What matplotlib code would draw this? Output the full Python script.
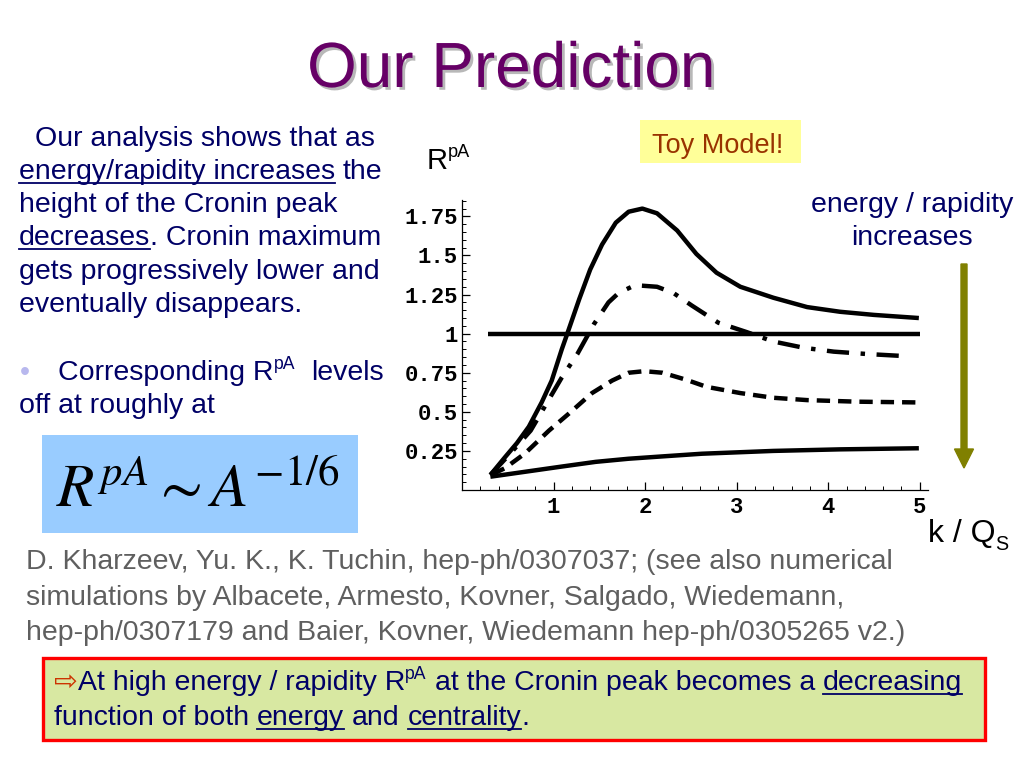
import matplotlib
matplotlib.use('Agg')
import matplotlib.pyplot as plt
import matplotlib.transforms as mtransforms
import matplotlib.patheffects as pe
from matplotlib.patches import Rectangle, FancyArrow
from matplotlib.lines import Line2D
from matplotlib.ticker import MultipleLocator, FixedLocator, FixedFormatter

plt.rcParams['mathtext.fontset'] = 'stix'

# curve values (k/Qs, R_pA)
top_x = [0.31, 0.47, 0.60, 0.73, 0.87, 0.98, 1.09, 1.15, 1.28, 1.40, 1.53, 1.68, 1.82, 1.97,
         2.13, 2.35, 2.56, 2.78, 3.04, 3.40, 3.77, 4.13, 4.50, 4.99]
top_y = [0.096, 0.21, 0.30, 0.405, 0.56, 0.70, 0.90, 1.0, 1.22, 1.41, 1.57, 1.71, 1.78, 1.80,
         1.77, 1.66, 1.51, 1.39, 1.30, 1.23, 1.17, 1.14, 1.12, 1.10]

dashdot_x = [0.31, 0.53, 0.75, 0.93, 1.09, 1.26, 1.44, 1.60, 1.71, 1.89, 2.13, 2.31, 2.51,
             2.80, 3.11, 3.40, 3.73, 4.06, 4.42, 4.82]
dashdot_y = [0.096, 0.235, 0.38, 0.56, 0.72, 0.87, 1.06, 1.20, 1.26, 1.31, 1.30, 1.26, 1.18,
             1.07, 1.01, 0.95, 0.91, 0.885, 0.87, 0.857]

dashed_x = [0.33, 0.47, 0.69, 0.95, 1.17, 1.42, 1.64, 1.82, 1.99, 2.19, 2.45, 2.67, 3.04,
            3.40, 3.77, 4.31, 4.99]
dashed_y = [0.10, 0.14, 0.235, 0.38, 0.49, 0.62, 0.70, 0.75, 0.76, 0.75, 0.705, 0.66, 0.62,
            0.59, 0.575, 0.565, 0.56]

bottom_x = [0.31, 0.73, 1.09, 1.46, 1.82, 2.19, 2.62, 3.40, 4.13, 4.99]
bottom_y = [0.085, 0.12, 0.15, 0.18, 0.20, 0.215, 0.232, 0.25, 0.26, 0.267]

unity_x = [0.28, 5.0]
unity_y = [1.0, 1.0]

x_ticks = [1, 2, 3, 4, 5]
x_labels = ['1', '2', '3', '4', '5']
y_ticks = [0.25, 0.5, 0.75, 1.0, 1.25, 1.5, 1.75]
y_labels = ['0.25', '0.5', '0.75', '1', '1.25', '1.5', '1.75']

W, H = 1024, 768
fig = plt.figure(figsize=(W / 100, H / 100), dpi=100)
# pixel coordinates, origin at the top left of the slide
T = mtransforms.Affine2D().scale(1 / W, -1 / H).translate(0, 1) + fig.transFigure
renderer = fig.canvas.get_renderer()

SANS = ['Liberation Sans', 'DejaVu Sans']
NAVY = '#000066'
BODY = 20.5


def text_w(s, size):
    t = fig.text(0, 0, s, fontsize=size, family=SANS)
    w = t.get_window_extent(renderer).width
    t.remove()
    return w


def adv(s, size):
    # advance width incl. spaces
    return text_w('|' + s + '|', size) - text_w('||', size)


def run_line(x, y, runs, size, color):
    for s, style in runs:
        sz = size * 0.62 if style in ('sup', 'sub') else size
        yy = y
        if style == 'sup':
            yy = y - size * 0.40 * 100 / 72
        elif style == 'sub':
            yy = y + size * 0.25 * 100 / 72
        core = s.strip()
        lead = s[:len(s) - len(s.lstrip())]
        x0 = x + (adv(lead, sz) if lead else 0)
        c = '#cc3300' if style == 'arrow' else color
        fig.text(x0, yy, core, transform=T, fontsize=sz, family=SANS, color=c,
                 ha='left', va='baseline')
        if style == 'u':
            x1 = x0 + adv(core, sz)
            fig.add_artist(Line2D([x0, x1], [y + 3.5, y + 3.5], transform=T, color=color, lw=1.3))
        x += adv(s, sz)


# title
fig.text(511, 87, 'Our Prediction', transform=T, fontsize=46, family=SANS, color='#660066',
         ha='center', va='baseline',
         path_effects=[pe.withSimplePatchShadow(offset=(2, -2), shadow_rgbFace='#9a9a9a', alpha=0.7)])

# left paragraph
run_line(35, 146, [('Our analysis shows that as', '')], BODY, NAVY)
run_line(19, 179, [('energy/rapidity increases', 'u'), (' the', '')], BODY, NAVY)
run_line(19, 212, [('height of the Cronin peak', '')], BODY, NAVY)
run_line(19, 245, [('decreases', 'u'), ('. Cronin maximum', '')], BODY, NAVY)
run_line(19, 279, [('gets progressively lower and', '')], BODY, NAVY)
run_line(19, 312, [('eventually disappears.', '')], BODY, NAVY)
fig.text(20, 380, '\u2022', transform=T, fontsize=BODY, family=SANS, color='#b8b8ee', va='baseline')
run_line(58, 380, [('Corresponding R', ''), ('pA', 'sup'), ('  levels', '')], BODY, NAVY)
run_line(19, 413, [('off at roughly at', '')], BODY, NAVY)

# formula box
fig.add_artist(Rectangle((42, 435), 316, 98, transform=T, facecolor='#99ccff', edgecolor='none'))
fig.text(56, 507, r'$R^{pA} \sim A^{-1/6}$', transform=T, fontsize=44, color='black',
         ha='left', va='baseline')

# toy model label
fig.add_artist(Rectangle((640, 120), 161, 43, transform=T, facecolor='#ffff99', edgecolor='none'))
fig.text(652, 153, 'Toy Model!', transform=T, fontsize=19.5, family=SANS, color='#993300',
         ha='left', va='baseline')

# axis names
run_line(427, 169, [('R', ''), ('pA', 'sup')], 21, 'black')
run_line(928, 542, [('k / Q', ''), ('S', 'sub')], 23, 'black')

# energy arrow
fig.text(912, 212, 'energy / rapidity', transform=T, fontsize=BODY, family=SANS, color=NAVY,
         ha='center', va='baseline')
fig.text(912, 245, 'increases', transform=T, fontsize=BODY, family=SANS, color=NAVY,
         ha='center', va='baseline')
fig.add_artist(FancyArrow(964, 264, 0, 204, width=6, head_width=19, head_length=19,
                          length_includes_head=True, transform=T, color='#808000'))

# plot
ax = fig.add_axes([462 / W, 1 - 490 / H, 466 / W, 290 / H])
lw = 3.2
ax.plot(top_x, top_y, color='black', lw=lw, solid_capstyle='butt', solid_joinstyle='round')
ax.plot(unity_x, unity_y, color='black', lw=lw, solid_capstyle='butt')
ax.plot(dashdot_x, dashdot_y, color='black', lw=lw, linestyle=(0, (5, 2.6, 1, 2.6)), dash_capstyle='butt')
ax.plot(dashed_x, dashed_y, color='black', lw=lw, linestyle=(0, (3, 1.8)), dash_capstyle='butt')
ax.plot(bottom_x, bottom_y, color='black', lw=lw, solid_capstyle='butt', solid_joinstyle='round')

ax.set_xlim(0, 5.09)
ax.set_ylim(0, 1.855)
ax.set_facecolor('none')
for side in ['top', 'right']:
    ax.spines[side].set_visible(False)
for side in ['left', 'bottom']:
    ax.spines[side].set_linewidth(0.9)

ax.xaxis.set_major_locator(FixedLocator(x_ticks))
ax.xaxis.set_major_formatter(FixedFormatter(x_labels))
ax.yaxis.set_major_locator(FixedLocator(y_ticks))
ax.yaxis.set_major_formatter(FixedFormatter(y_labels))
ax.xaxis.set_minor_locator(MultipleLocator(0.2))
ax.yaxis.set_minor_locator(MultipleLocator(0.05))
ax.tick_params(which='major', direction='in', length=6, width=0.9, labelsize=16)
ax.tick_params(which='minor', direction='in', length=3, width=0.7)
ax.tick_params(axis='y', pad=3)
ax.tick_params(axis='x', pad=5)
for lab in ax.get_xticklabels() + ax.get_yticklabels():
    lab.set_family(['Liberation Mono', 'DejaVu Sans Mono'])
    lab.set_fontweight('bold')

# reference
GREY = '#5f5f5f'
run_line(26, 569, [('D. Kharzeev, Yu. K., K. Tuchin, hep-ph/0307037; (see also numerical', '')], 20.5, GREY)
run_line(26, 605, [('simulations by Albacete, Armesto, Kovner, Salgado, Wiedemann,', '')], 20.5, GREY)
run_line(26, 640, [('hep-ph/0307179 and Baier, Kovner, Wiedemann hep-ph/0305265 v2.)', '')], 20.5, GREY)

# conclusion box
fig.add_artist(Rectangle((43, 658), 942, 82, transform=T, facecolor='#d8e8a2',
                         edgecolor='#ff0000', lw=2.4))
run_line(54, 690, [('\u21e8', 'arrow'), ('At high energy / rapidity R', ''), ('pA', 'sup'),
                   (' at the Cronin peak becomes a ', ''), ('decreasing', 'u')], BODY, NAVY)
run_line(54, 725, [('function of both ', ''), ('energy', 'u'), (' and ', ''),
                   ('centrality', 'u'), ('.', '')], BODY, NAVY)

fig.savefig('out.png', dpi=100)
plt.close(fig)
